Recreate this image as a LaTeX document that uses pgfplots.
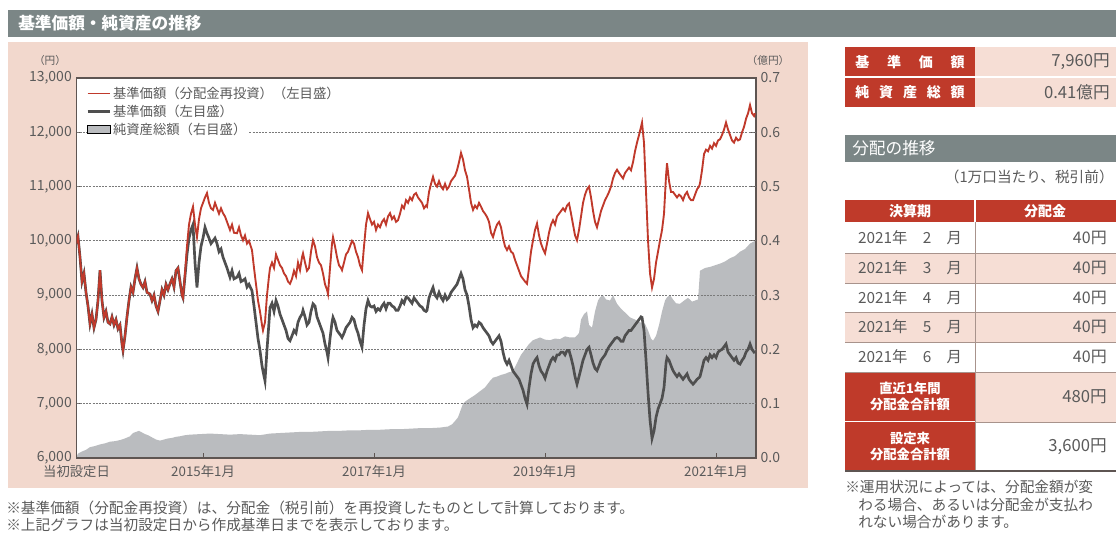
\documentclass[border=0pt]{standalone}
\usepackage{pgfplots}
\pgfplotsset{compat=1.18}
\usepackage{pgfplotstable}
\usepackage{fontspec}
\setmainfont{Noto Sans CJK JP}
\definecolor{titlegray}{HTML}{7B8686}
\definecolor{panelpink}{HTML}{F2D8CD}
\definecolor{cellpink}{HTML}{F6DED5}
\definecolor{cellred}{HTML}{BF3A2A}
\definecolor{textgray}{HTML}{5A5A5A}
\definecolor{redline}{HTML}{C0392B}
\definecolor{darkline}{HTML}{4F4F4F}
\definecolor{areagray}{HTML}{BABCBF}
\definecolor{framecol}{HTML}{5E5552}
\definecolor{gridgray}{HTML}{7A7A7A}
\definecolor{rowline}{HTML}{A8938C}

\pgfplotstableread[row sep=\\]{
x R D\\
76 9950 9950\\ 78 10080 10080\\ 80 9700 9700\\ 82 9250 9250\\ 84 9400 9400\\ 86 9050 9050\\ 88 8800 8800\\ 90 8470 8470\\
92 8650 8650\\ 94 8400 8400\\ 96 8550 8550\\ 98 8900 8900\\ 100 9460 9460\\ 102 8900 8900\\ 104 8590 8590\\ 106 8700 8700\\
108 8500 8500\\ 110 8470 8470\\ 112 8600 8600\\ 114 8450 8450\\ 116 8550 8550\\ 118 8380 8380\\ 120 8450 8450\\ 122 8100 8100\\
123 7980 7980\\ 125 8250 8250\\ 127 8600 8600\\ 129 8900 8900\\ 131 9150 9150\\ 133 9050 9050\\ 135 9300 9300\\ 137 9500 9500\\
139 9300 9300\\ 141 9200 9200\\ 143 9140 9140\\ 145 9250 9250\\ 147 9050 9050\\ 150 9020 9020\\ 152 8900 8900\\ 154 9000 9000\\
156 8800 8800\\ 158 8700 8700\\ 160 8900 8900\\ 162 9100 9100\\ 164 9000 9000\\ 166 9200 9200\\ 168 9100 9100\\ 170 9210 9210\\
172 9300 9300\\ 174 9150 9150\\ 176 9450 9450\\ 178 9500 9500\\ 180 9250 9250\\ 182 9000 9000\\ 183 8950 8950\\ 185 9400 9350\\
187 9900 9750\\ 189 10300 10050\\ 191 10500 10200\\ 193 10630 10300\\ 195 10300 9600\\ 197 10070 9140\\ 199 10400 9600\\ 201 10600 9900\\
203 10700 10050\\ 205 10800 10250\\ 207 10880 10140\\ 209 10700 10050\\ 211 10600 9950\\ 213 10570 10000\\ 215 10700 10050\\ 217 10600 9950\\
219 10500 9800\\ 221 10600 9850\\ 223 10510 9700\\ 225 10450 9600\\ 227 10350 9500\\ 230 10200 9330\\ 232 10300 9450\\ 234 10150 9300\\
237 10140 9330\\ 239 10250 9400\\ 241 10100 9250\\ 243 10010 9270\\ 245 10100 9300\\ 247 9950 9150\\ 249 10000 9200\\ 252 9830 9080\\
254 9500 8800\\ 256 9200 8500\\ 258 8900 8200\\ 260 8700 7980\\ 262 8450 7700\\ 263 8350 7600\\ 265 8500 7420\\ 267 9000 8000\\
269 9350 8500\\ 270 9500 8770\\ 272 9600 8850\\ 274 9500 8700\\ 276 9750 8900\\ 278 9650 8800\\ 280 9550 8650\\ 282 9500 8550\\
284 9400 8450\\ 286 9350 8350\\ 288 9250 8200\\ 290 9210 8160\\ 292 9300 8250\\ 294 9450 8350\\ 296 9350 8300\\ 298 9600 8500\\
300 9460 8590\\ 302 9700 8650\\ 303 9770 8720\\ 305 9600 8600\\ 307 9450 8450\\ 309 9500 8500\\ 311 9800 8700\\ 313 10010 8840\\
315 9900 8800\\ 317 9700 8600\\ 319 9600 8500\\ 321 9550 8400\\ 323 9400 8300\\ 325 9200 8100\\ 327 9100 7950\\ 328 9020 7850\\
330 9500 8200\\ 332 9950 8500\\ 333 10070 8590\\ 335 9900 8500\\ 337 9700 8350\\ 339 9550 8300\\ 341 9500 8250\\ 342 9460 8220\\
344 9600 8300\\ 346 9750 8400\\ 348 9800 8450\\ 350 9900 8500\\ 352 10000 8590\\ 354 9950 8550\\ 356 9800 8400\\ 358 9700 8300\\
360 9550 8150\\ 362 9460 8040\\ 364 9900 8450\\ 366 10300 8750\\ 368 10510 8900\\ 370 10400 8800\\ 372 10300 8780\\ 374 10350 8800\\
376 10200 8700\\ 378 10300 8750\\ 380 10250 8720\\ 382 10350 8800\\ 384 10400 8850\\ 386 10300 8750\\ 388 10450 8850\\ 390 10510 8850\\
392 10400 8800\\ 394 10450 8780\\ 396 10350 8720\\ 398 10380 8720\\ 400 10500 8800\\ 402 10650 8900\\ 404 10600 8850\\ 406 10750 8960\\
408 10700 8950\\ 410 10800 8900\\ 412 10750 8850\\ 414 10850 8950\\ 416 10880 8900\\ 418 10800 8850\\ 420 10750 8800\\ 422 10700 8780\\
424 10600 8720\\ 426 10650 8700\\ 427 10630 8720\\ 429 10900 8950\\ 431 11050 9050\\ 433 11180 9140\\ 435 11050 9000\\ 437 11000 8950\\
439 11100 9050\\ 441 11000 8960\\ 443 10950 8900\\ 445 11050 9000\\ 447 10950 8920\\ 449 11000 8960\\ 451 11100 9050\\ 453 11150 9100\\
455 11200 9150\\ 457 11300 9200\\ 459 11450 9300\\ 461 11620 9400\\ 463 11500 9300\\ 465 11300 9100\\ 467 11180 9000\\ 469 10950 8800\\
471 10700 8550\\ 473 10570 8400\\ 475 10650 8450\\ 477 10600 8420\\ 479 10700 8500\\ 481 10630 8470\\ 483 10550 8400\\ 485 10500 8350\\
487 10440 8300\\ 489 10350 8250\\ 491 10150 8150\\ 493 10070 8100\\ 495 10200 8150\\ 497 10300 8200\\ 499 10350 8250\\ 501 10250 8150\\
503 10050 7950\\ 505 9900 7800\\ 507 9830 7730\\ 509 9900 7800\\ 511 9800 7700\\ 513 9770 7600\\ 515 9650 7550\\ 517 9550 7500\\
519 9450 7450\\ 521 9350 7350\\ 523 9300 7250\\ 525 9250 7100\\ 527 9210 6990\\ 529 9500 7300\\ 531 9800 7550\\ 533 10010 7730\\
535 10200 7800\\ 537 10320 7850\\ 539 10100 7700\\ 541 9950 7600\\ 543 9850 7550\\ 545 9770 7470\\ 547 9950 7600\\ 549 10150 7700\\
551 10300 7800\\ 553 10380 7850\\ 555 10300 7800\\ 557 10450 7900\\ 559 10500 7900\\ 561 10550 7950\\ 563 10600 7950\\ 565 10550 7900\\
567 10650 7980\\ 569 10690 7980\\ 571 10500 7850\\ 573 10300 7700\\ 575 10100 7500\\ 577 10010 7360\\ 579 10200 7500\\ 581 10450 7650\\
583 10700 7800\\ 585 10850 7900\\ 587 10950 8000\\ 589 11000 8040\\ 591 10800 7900\\ 593 10550 7750\\ 595 10350 7650\\ 597 10250 7610\\
599 10400 7700\\ 601 10550 7800\\ 603 10650 7850\\ 605 10750 7900\\ 607 10820 7980\\ 609 10900 8050\\ 611 11000 8100\\ 613 11150 8150\\
615 11250 8200\\ 617 11310 8220\\ 619 11250 8200\\ 621 11200 8150\\ 623 11150 8150\\ 625 11250 8250\\ 627 11300 8300\\ 629 11350 8350\\
631 11300 8350\\ 633 11450 8400\\ 635 11650 8450\\ 637 11810 8500\\ 639 11950 8550\\ 641 12100 8600\\ 642 12180 8590\\ 644 11800 8350\\
646 10900 7800\\ 648 10000 7200\\ 650 9400 6700\\ 652 9140 6360\\ 654 9300 6500\\ 656 9600 6750\\ 658 9800 6900\\ 660 10010 7000\\
662 10200 7100\\ 664 10500 7300\\ 666 11200 7750\\ 667 11430 7850\\ 669 11100 7800\\ 671 10900 7700\\ 673 10900 7610\\ 675 10850 7550\\
677 10800 7500\\ 679 10850 7550\\ 681 10820 7500\\ 683 10750 7450\\ 685 10850 7500\\ 687 10900 7550\\ 689 10800 7450\\ 691 10750 7400\\
693 10750 7360\\ 695 10850 7400\\ 697 10950 7450\\ 699 11000 7480\\ 700 11060 7500\\ 702 11300 7650\\ 704 11600 7800\\ 706 11680 7850\\
708 11650 7800\\ 710 11750 7900\\ 712 11700 7850\\ 714 11800 7900\\ 716 11750 7850\\ 718 11850 7950\\ 720 11870 7980\\ 722 11950 8000\\
724 12050 8050\\ 726 12180 8100\\ 728 12050 7950\\ 730 11950 7900\\ 732 11850 7850\\ 734 11810 7800\\ 736 11900 7850\\ 738 11850 7750\\
740 11870 7730\\ 742 12000 7800\\ 744 12100 7850\\ 746 12250 7950\\ 748 12350 8000\\ 750 12500 8100\\ 752 12350 8000\\ 754 12300 7950\\
755 12350 7960\\
}\navtable

\pgfplotstableread[row sep=\\]{
x A\\
76 0.000\\ 78 0.008\\ 82 0.012\\ 86 0.015\\ 90 0.020\\ 95 0.022\\ 100 0.025\\ 105 0.027\\ 110 0.030\\ 115 0.031\\
120 0.033\\ 125 0.036\\ 130 0.040\\ 133 0.046\\ 136 0.048\\ 139 0.050\\ 142 0.047\\ 145 0.044\\ 148 0.042\\ 152 0.038\\
156 0.034\\ 160 0.032\\ 164 0.034\\ 168 0.036\\ 172 0.037\\ 176 0.039\\ 180 0.040\\ 185 0.042\\ 190 0.043\\ 200 0.044\\
210 0.045\\ 220 0.044\\ 230 0.043\\ 240 0.044\\ 250 0.043\\ 260 0.042\\ 270 0.045\\ 280 0.046\\ 290 0.047\\ 300 0.048\\
310 0.048\\ 320 0.049\\ 330 0.050\\ 340 0.050\\ 350 0.051\\ 360 0.051\\ 370 0.052\\ 380 0.052\\ 390 0.053\\ 400 0.053\\
410 0.054\\ 420 0.055\\ 430 0.055\\ 440 0.056\\ 448 0.058\\ 452 0.062\\ 455 0.068\\ 458 0.075\\ 461 0.090\\ 463 0.100\\
466 0.105\\ 470 0.110\\ 475 0.116\\ 480 0.123\\ 485 0.130\\ 490 0.142\\ 493 0.148\\ 497 0.150\\ 501 0.153\\ 505 0.155\\
509 0.158\\ 513 0.160\\ 517 0.175\\ 521 0.190\\ 525 0.200\\ 529 0.210\\ 533 0.217\\ 540 0.222\\ 545 0.218\\ 550 0.217\\
555 0.220\\ 560 0.219\\ 565 0.224\\ 570 0.222\\ 575 0.222\\ 579 0.230\\ 581 0.255\\ 584 0.265\\ 587 0.270\\ 589 0.245\\
592 0.240\\ 595 0.270\\ 598 0.290\\ 600 0.296\\ 603 0.300\\ 606 0.292\\ 610 0.290\\ 613 0.300\\ 617 0.284\\ 621 0.275\\
625 0.268\\ 630 0.259\\ 635 0.255\\ 640 0.250\\ 645 0.247\\ 648 0.235\\ 651 0.220\\ 653 0.216\\ 656 0.225\\ 659 0.245\\
662 0.270\\ 665 0.290\\ 667 0.296\\ 670 0.300\\ 673 0.292\\ 676 0.285\\ 680 0.284\\ 684 0.290\\ 688 0.295\\ 692 0.288\\
695 0.290\\ 698 0.292\\ 700 0.345\\ 705 0.350\\ 710 0.352\\ 715 0.355\\ 720 0.358\\ 725 0.362\\ 730 0.368\\ 735 0.372\\
740 0.380\\ 745 0.385\\ 750 0.395\\ 755 0.400\\
}\aumtable

\begin{document}
\begin{tikzpicture}[x=0.75pt,y=0.75pt]
\useasboundingbox (0,0) rectangle (1116,538);
% title bar
\fill[titlegray] (8,501) rectangle (1116,528);
\node[anchor=west, text=white, font=\bfseries\fontsize{12.5}{14}\selectfont, inner sep=0pt] at (18,514.5) {基準価額・純資産の推移};
% chart panel
\fill[panelpink] (8,50) rectangle (808,496);
\fill[white] (76.5,80) rectangle (756,460);
\node[text=textgray, font=\fontsize{8}{9}\selectfont, inner sep=0pt] at (50,478) {（円）};
\node[text=textgray, font=\fontsize{8}{9}\selectfont, inner sep=0pt] at (768,478) {（億円）};

\begin{axis}[
  at={(57.375pt,60pt)}, anchor=south west,
  scale only axis, width=509.625pt, height=285pt,
  xmin=2013.52, xmax=2021.467, ymin=0, ymax=0.7,
  axis x line=none, axis y line*=right,
  y axis line style={draw=none},
  ytick={0,0.1,0.2,0.3,0.4,0.5,0.6,0.7},
  yticklabel style={font=\fontsize{10.5}{12}\selectfont, text=textgray,
    /pgf/number format/fixed, /pgf/number format/fixed zerofill,
    /pgf/number format/precision=1, /pgf/number format/assume math mode=true},
  tick style={framecol, line width=0.8pt}, major tick length=4pt,
  clip=false,
]
\addplot[fill=areagray, draw=none] table[x expr=2013.52+(\thisrow{x}-76.5)/85.5, y=A] {\aumtable} \closedcycle;
\end{axis}

\begin{axis}[
  at={(57.375pt,60pt)}, anchor=south west,
  scale only axis, width=509.625pt, height=285pt,
  xmin=2013.52, xmax=2021.467, ymin=6000, ymax=13000,
  ytick={6000,7000,8000,9000,10000,11000,12000,13000},
  scaled y ticks=false,
  xtick={2013.52,2015,2017,2019,2021},
  xticklabels={当初設定日,2015年1月,2017年1月,2019年1月,2021年1月},
  ytick pos=left, xtick pos=bottom,
  axis line style={framecol, line width=1.1pt},
  tick style={framecol, line width=0.8pt}, major tick length=4pt,
  yticklabel style={font=\fontsize{10.5}{12}\selectfont, text=textgray,
    /pgf/number format/1000 sep={,}, /pgf/number format/assume math mode=true},
  xticklabel style={font=\fontsize{10}{12}\selectfont, text=textgray, yshift=-2pt},
  legend style={at={(0.012,0.985)}, anchor=north west, fill=none, draw=none,
    font=\fontsize{10}{11}\selectfont, text=textgray, row sep=1.5pt, inner sep=1pt,
    nodes={fill=white, inner sep=1pt}},
  legend cell align=left,
]
% horizontal dotted gridlines (drawn over the net-asset area)
\pgfplotsinvokeforeach{7000,8000,9000,10000,11000,12000}{
  \draw[gridgray, line width=0.9pt, dash pattern=on 1.5pt off 0.9pt] (axis cs:2013.52,#1) -- (axis cs:2021.467,#1);
}
\addlegendimage{line legend, redline, line width=1.1pt}
\addlegendentry{基準価額（分配金再投資）（左目盛）}
\addlegendimage{line legend, darkline, line width=2pt}
\addlegendentry{基準価額（左目盛）}
\addlegendimage{area legend, fill=areagray, draw=none}
\addlegendentry{純資産総額（右目盛）}
\addplot[darkline, line width=2pt, forget plot] table[x expr=2013.52+(\thisrow{x}-76.5)/85.5, y=D] {\navtable};
\addplot[redline, line width=1.4pt, forget plot] table[x expr=2013.52+(\thisrow{x}-76.5)/85.5, y=R] {\navtable};
\end{axis}

% footnotes left
\node[anchor=west, text=textgray, font=\fontsize{11}{12}\selectfont, inner sep=0pt] at (6,30) {※基準価額（分配金再投資）は、分配金（税引前）を再投資したものとして計算しております。};
\node[anchor=west, text=textgray, font=\fontsize{11}{12}\selectfont, inner sep=0pt] at (6,13) {※上記グラフは当初設定日から作成基準日までを表示しております。};

% right column: box 1
\fill[cellred] (845,461) rectangle (975,491);
\fill[cellred] (845,431) rectangle (975,461);
\fill[cellpink] (975,431) rectangle (1116,491);
\draw[white, line width=1pt] (845,461) -- (1116,461);
\node[text=white, font=\bfseries\fontsize{10.5}{12}\selectfont, inner sep=0pt] at (910,476) {\makebox[82pt]{基\hfill 準\hfill 価\hfill 額}};
\node[text=white, font=\bfseries\fontsize{10.5}{12}\selectfont, inner sep=0pt] at (910,446) {\makebox[82pt]{純\hfill 資\hfill 産\hfill 総\hfill 額}};
\node[anchor=east, text=textgray, font=\fontsize{12.5}{14}\selectfont, inner sep=0pt] at (1110,476) {7,960円};
\node[anchor=east, text=textgray, font=\fontsize{12.5}{14}\selectfont, inner sep=0pt] at (1110,446) {0.41億円};

% distribution bar
\fill[titlegray] (845,376) rectangle (1116,403);
\node[anchor=west, text=white, font=\fontsize{12.5}{14}\selectfont, inner sep=0pt] at (852,389.5) {分配の推移};
\node[anchor=east, text=textgray, font=\fontsize{11}{13}\selectfont, inner sep=0pt] at (1114,361) {（1万口当たり、税引前）};

% header
\fill[cellred] (845,316) rectangle (1116,338);
\draw[white, line width=1pt] (975,316) -- (975,338);
\node[text=white, font=\bfseries\fontsize{10.5}{12}\selectfont, inner sep=0pt] at (910,327) {決算期};
\node[text=white, font=\bfseries\fontsize{10.5}{12}\selectfont, inner sep=0pt] at (1045,327) {分配金};

% rows
\fill[cellpink] (845,255) rectangle (1116,285);
\fill[cellpink] (845,196) rectangle (1116,226);
\foreach \yy in {285,255,226,196} {\draw[rowline, line width=0.6pt] (845,\yy) -- (1116,\yy);}
\draw[rowline, line width=0.6pt] (975,166) -- (975,316);
\foreach \yy/\mm in {300/2,270/3,240.5/4,211/5,181/6} {
  \node[text=textgray, font=\fontsize{11.5}{13}\selectfont, inner sep=0pt] at (910,\yy) {2021年　\mm　月};
  \node[anchor=east, text=textgray, font=\fontsize{12}{14}\selectfont, inner sep=0pt] at (1107,\yy) {40円};
}

% totals
\fill[cellred] (845,117) rectangle (975,166);
\fill[cellred] (845,67) rectangle (975,116);
\fill[cellpink] (975,116) rectangle (1116,166);
\draw[rowline, line width=0.6pt] (845,166) -- (1116,166);
\draw[rowline, line width=0.6pt] (975,116) -- (1116,116);
\draw[rowline, line width=0.6pt] (975,67) -- (975,166);
\draw[framecol, line width=1pt] (845,67) -- (1116,67);
\node[text=white, font=\bfseries\fontsize{10}{11.5}\selectfont, inner sep=0pt, align=center] at (910,141.5) {直近1年間\\分配金合計額};
\node[text=white, font=\bfseries\fontsize{10}{11.5}\selectfont, inner sep=0pt, align=center] at (910,91.5) {設定来\\分配金合計額};
\node[anchor=east, text=textgray, font=\fontsize{12.5}{14}\selectfont, inner sep=0pt] at (1107,141.5) {480円};
\node[anchor=east, text=textgray, font=\fontsize{12.5}{14}\selectfont, inner sep=0pt] at (1107,91.5) {3,600円};

% right notes
\node[anchor=west, text=textgray, font=\fontsize{11}{12}\selectfont, inner sep=0pt] at (845,51) {※運用状況によっては、分配金額が変};
\node[anchor=west, text=textgray, font=\fontsize{11}{12}\selectfont, inner sep=0pt] at (858,33) {わる場合、あるいは分配金が支払わ};
\node[anchor=west, text=textgray, font=\fontsize{11}{12}\selectfont, inner sep=0pt] at (858,16) {れない場合があります。};
\end{tikzpicture}
\end{document}
